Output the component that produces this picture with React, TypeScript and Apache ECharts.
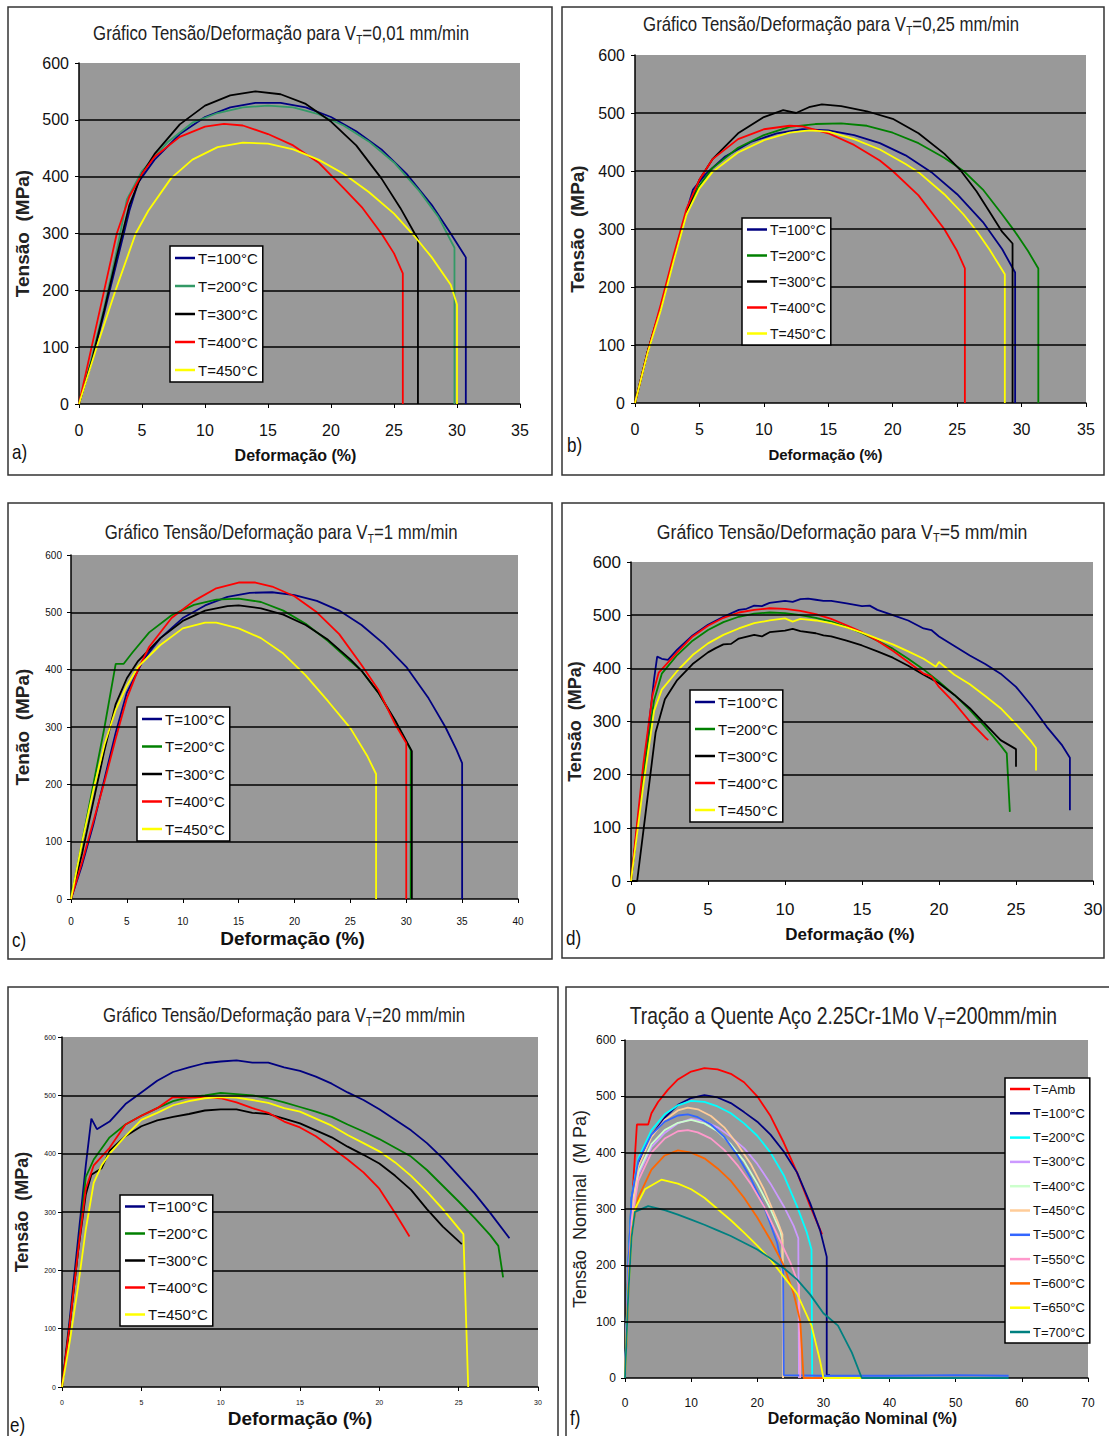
import React, { useEffect, useRef } from "react";
import * as echarts from "echarts";

const NARROW = '"Liberation Sans Narrow", "Arial Narrow", "Liberation Sans", Arial, sans-serif';
const WIDE = '"Liberation Sans", Arial, sans-serif';

// Tick values
const yTicks = [0, 100, 200, 300, 400, 500, 600];
const gridYValues = [100, 200, 300, 400, 500];

// Legend labels
const labels5 = ["T=100°C", "T=200°C", "T=300°C", "T=400°C", "T=450°C"];
const labelsF = ["T=Amb", "T=100°C", "T=200°C", "T=300°C", "T=400°C", "T=450°C", "T=500°C", "T=550°C", "T=600°C", "T=650°C", "T=700°C"];

// Colors
const colorsA = ["#000080", "#339966", "#000000", "#ff0000", "#ffff00"];
const colors5 = ["#000080", "#008000", "#000000", "#ff0000", "#ffff00"];
const colorsF = ["#ff0000", "#000080", "#00ffff", "#cc99ff", "#ccffcc", "#ffcc99", "#3366ff", "#ff99cc", "#ff6600", "#ffff00", "#008080"];

// Panel a: V=0,01 mm/min
const a100 = [[0,0],[1,75],[2,160],[3,250],[4,340],[4.7,390],[6,430],[8,475],[10,505],[12,522],[14,530],[16,530],[18,522],[20,505],[22,480],[24,448],[26,405],[28,350],[29.5,300],[30.7,258],[30.7,0]];
const a200 = [[0,0],[1,80],[2,170],[3,270],[3.8,360],[5,410],[7,460],[9,495],[11,512],[13,522],[15,525],[17,522],[19,510],[21,490],[23,462],[25,425],[27,375],[28.5,330],[29.8,275],[29.8,0]];
const a300 = [[0,0],[1,75],[2,165],[3,260],[4,350],[5,405],[6,440],[8,492],[10,525],[12,543],[14,550],[16,545],[18,528],[20,497],[22,455],[24,397],[25.5,345],[26.9,290],[26.9,0]];
const a400 = [[0,0],[1,100],[2,200],[3,300],[4,365],[5,405],[6,435],[8,470],[10,488],[11.5,493],[13,490],[15,475],[17,455],[19,425],[21,380],[22.5,345],[24,300],[25,265],[25.7,230],[25.7,0]];
const a450 = [[0,0],[1.4,100],[2.9,200],[4.5,300],[5.5,340],[7.3,397],[9,430],[11,452],[13,460],[15,458],[17,448],[19,430],[21,405],[23,373],[25,335],[26.6,296],[28,258],[29.5,210],[30,175],[30,0]];

// Panel b: V=0,25 mm/min
const b100 = [[0,0],[1,90],[2,165],[3,250],[4,330],[4.5,368],[5.5,395],[7,425],[9,450],[11,465],[13,472],[15,470],[17,462],[19,448],[21,427],[23,398],[25,360],[27,312],[28.5,265],[29.5,225],[29.5,0]];
const b200 = [[0,0],[1,90],[2,165],[3,250],[4,330],[5,375],[6,405],[8,440],[10,462],[12,476],[14,481],[16,482],[18,478],[20,466],[22,448],[24,423],[25.5,400],[27,368],[28.5,325],[29.5,295],[30.5,262],[31.3,232],[31.3,0]];
const b300 = [[0,0],[1,90],[2,165],[3,250],[4,330],[5,385],[6,420],[8,465],[10,493],[11.5,505],[12.5,500],[13.5,510],[14.5,515],[16,512],[18,503],[20,490],[22,465],[24,430],[25.2,403],[26.5,365],[27.5,330],[28.5,295],[29.3,275],[29.3,0]];
const b400 = [[0,0],[1,90],[2,170],[3,255],[4,335],[5,385],[6,420],[8,455],[10,472],[12,478],[13,477],[15,465],[17,445],[19,418],[20,400],[22,358],[24,300],[25,262],[25.6,232],[25.6,0]];
const b450 = [[0,0],[1,88],[2,160],[3,245],[4,325],[5,370],[6,398],[8,432],[10,453],[12,466],[13.5,470],[15,468],[17,455],[19,437],[21,412],[22,398],[24,360],[25.5,325],[26.5,297],[27.5,265],[28.7,222],[28.7,0]];

// Panel c: V=1 mm/min
const c100 = [[0,0],[1,60],[2,130],[3,210],[4,290],[5,360],[6.5,418],[8,455],[10,490],[12,512],[14,527],[16,534],[18,535],[20,530],[22,520],[24,503],[26,478],[28,445],[30,405],[32,350],[33.5,300],[34.5,260],[35,237],[35,0]];
const c200 = [[0,0],[1,100],[2,200],[3,300],[4,410],[4.7,410],[5.5,430],[7,465],[9,495],[11,513],[13,522],[15,524],[17,518],[19,503],[21,480],[23,450],[25,415],[26,398],[27.5,360],[29,310],[30.4,260],[30.4,0]];
const c300 = [[0,0],[1,80],[2,170],[3,260],[4,340],[5,385],[6,415],[8,455],[10,485],[12,503],[14,511],[15,512],[17,507],[19,496],[21,478],[23,452],[25,418],[26,398],[27.5,360],[29,312],[30.5,258],[30.5,0]];
const c400 = [[0,0],[1,65],[2,135],[3,205],[4,280],[5,350],[6,400],[7,440],[9,490],[11,520],[13,542],[15,552],[16.5,552],[18,545],[20,528],[22,500],[24,462],[26,408],[27.5,365],[29,305],[30,272],[30,0]];
const c450 = [[0,0],[1,100],[2,190],[3,270],[4,330],[5,372],[6,405],[8,443],[10,472],[12,482],[13,482],[15,472],[17,455],[19,428],[21,390],[23,345],[25,298],[26.5,250],[27.3,218],[27.3,0]];

// Panel d: V=5 mm/min
const d100 = [[0,0],[0.8,200],[1.5,380],[1.7,422],[2,418],[2.4,416],[3,435],[4,462],[5,482],[6,497],[7,510],[7.5,512],[8,518],[8.5,517],[9,523],[10,527],[10.5,525],[11,530],[11.5,531],[12,529],[12.5,527],[13,527],[14,522],[15,517],[15.5,518],[16,510],[17,500],[18,490],[19,475],[19.5,472],[20,460],[21,442],[22,424],[23,408],[24,390],[25,365],[26,330],[27,290],[28,255],[28.5,232],[28.5,133]];
const d200 = [[0,0],[0.8,200],[1.5,340],[2,390],[3,425],[4,452],[5,472],[6,487],[7,497],[8,503],[9,505],[10,504],[11,500],[12,495],[13,488],[14,478],[15,466],[16,452],[17,437],[18,418],[19,398],[20,375],[21,350],[22,322],[23,290],[24,255],[24.4,240],[24.6,130]];
const d300 = [[0,0],[0.4,0],[1,140],[1.6,280],[2.2,342],[3,378],[4,408],[5,430],[5.5,438],[6,445],[6.5,446],[7,456],[8,463],[8.5,460],[9,468],[10,471],[10.5,474],[11,470],[12,466],[12.5,462],[13,460],[14,452],[15,443],[16,432],[17,420],[18,405],[19,388],[20,372],[21,350],[22,325],[23,295],[24,265],[25,248],[25,215]];
const d400 = [[0,0],[0.8,220],[1.4,350],[1.8,392],[3,430],[4,460],[5,480],[6,495],[7,505],[8,510],[9,513],[10,512],[11,508],[12,502],[13,493],[14,481],[15,468],[16,452],[17,433],[18,412],[19,390],[19.5,385],[20,365],[21,335],[22,300],[23,270],[23.2,265]];
const d450 = [[0,0],[0.8,180],[1.5,320],[2,360],[3,395],[4,425],[5,447],[6,463],[7,475],[8,485],[9,490],[10,494],[10.5,488],[11,493],[12,490],[13,485],[14,477],[15,467],[16,456],[17,445],[18,432],[19,418],[19.8,403],[20,412],[21,388],[22,370],[23,348],[24,325],[25,295],[26,262],[26.3,250],[26.3,208]];

// Panel e: V=20 mm/min
const e100 = [[0,0],[0.5,120],[1,250],[1.5,380],[1.85,460],[2.2,442],[3,455],[4,485],[5,505],[6,525],[7,540],[8,548],[9,555],[10,558],[11,560],[12,556],[13,556],[14,548],[15,542],[16,532],[17,520],[18,505],[19,492],[20,476],[21,458],[22,440],[23,418],[24,392],[25,362],[26,332],[27,298],[28.2,255]];
const e200 = [[0,0],[0.5,110],[1,230],[1.5,360],[2,390],[3,428],[4,450],[5,465],[6,478],[7,490],[8,497],[9,500],[10,504],[11,502],[12,500],[13,495],[14,488],[15,480],[16,472],[17,463],[18,450],[19,438],[20,425],[21,410],[22,395],[23,372],[24,345],[25,318],[26,290],[27,260],[27.5,242],[27.8,188]];
const e300 = [[0,0],[0.5,110],[1,230],[1.5,330],[1.85,364],[2.5,375],[3,405],[4,430],[5,447],[6,457],[7,463],[8,468],[9,474],[10,476],[11,476],[12,470],[13,468],[14,460],[15,452],[16,440],[17,428],[18,412],[19,398],[20,383],[21,362],[22,338],[23,305],[24,275],[25.2,245]];
const e400 = [[0,0],[0.5,110],[1,230],[1.5,340],[2,380],[3,410],[4,450],[5,465],[6,478],[7,497],[8,496],[9,497],[10,495],[11,488],[12,478],[13,470],[14,455],[15,445],[16,430],[17,410],[18,390],[19,368],[20,340],[21,298],[21.9,258]];
const e450 = [[0,0],[0.5,80],[1,170],[1.5,270],[2,350],[2.5,380],[3,400],[4,430],[5,458],[6,470],[7,483],[8,490],[9,495],[10,497],[11,496],[12,492],[13,487],[14,478],[15,472],[16,460],[17,448],[18,432],[19,418],[20,404],[21,385],[22,362],[23,335],[24,305],[25.3,262],[25.6,0]];

// Panel f: V=200 mm/min
const fAmb = [[0,0],[0.5,150],[1,300],[1.8,450],[3.5,450],[4,470],[5,490],[6.5,512],[8,530],[10,544],[12,550],[14,548],[16,540],[18,525],[20,500],[22,465],[24,418],[26,365],[28,305],[29.8,255]];
const f100 = [[0,0],[0.5,200],[1,320],[2,380],[4,430],[6,462],[8,485],[10,497],[12,502],[14,498],[16,488],[18,472],[20,455],[22,432],[24,402],[26,365],[28,310],[29.5,262],[30.5,215],[30.5,5],[31,5]];
const f200 = [[0,0],[0.5,200],[1,320],[2,390],[4,440],[6,468],[8,484],[10,492],[12,490],[14,482],[16,470],[18,452],[20,430],[22,400],[24,360],[26,305],[27.5,258],[28.2,228],[28.3,0]];
const f300 = [[0,0],[0.5,180],[1,290],[2,360],[4,410],[6,435],[8,452],[10,460],[12,456],[14,445],[16,428],[18,408],[20,380],[22,345],[24,305],[25.5,270],[26.2,248],[26.3,0]];
const f400 = [[0,0],[0.5,180],[1,290],[2,365],[4,415],[6,440],[8,453],[10,458],[12,452],[14,438],[16,415],[18,385],[20,345],[22,300],[23.5,260],[23.8,245],[23.9,0]];
const f450 = [[0,0],[0.5,190],[1,300],[2,375],[4,428],[6,458],[8,475],[9.5,480],[11,477],[13,465],[15,445],[17,415],[19,380],[21,335],[23,280],[23.8,255],[23.9,0]];
const f500 = [[0,0],[0.5,200],[1,320],[2,385],[4,432],[6,455],[8,466],[9.5,468],[11,463],[13,450],[15,428],[17,395],[19,355],[21,305],[23,240],[23.9,190],[24,5],[30,4],[40,4],[50,5],[58,4]];
const f550 = [[0,0],[0.5,170],[1,280],[2,350],[4,400],[6,425],[8,438],[9.5,440],[11,436],[13,425],[15,405],[17,378],[19,345],[21,305],[23,255],[25,205],[26.3,165],[26.5,0]];
const f600 = [[0,0],[0.5,160],[1,260],[2,320],[4,370],[6,395],[8,404],[10,400],[12,390],[14,372],[16,350],[18,320],[20,285],[22,245],[24,200],[25.5,150],[26.5,100],[27,0],[30,0]];
const f650 = [[0,0],[0.5,150],[1,250],[1.5,300],[3,335],[5.5,352],[8,345],[10,335],[12,320],[14,300],[16,280],[18,258],[20,235],[22,210],[24,180],[26,150],[28.2,93],[29.5,30],[30,0],[36,0]];
const f700 = [[0,0],[0.5,150],[1,250],[1.5,295],[3.5,305],[6,298],[8,290],[10,281],[12,272],[14,262],[16,252],[18,240],[20,228],[22,212],[24,195],[26,175],[28,148],[30,115],[32.2,93],[34.3,45],[35.8,0],[45,0],[58,0]];

type Panel = {
  key: string;
  box: number[];
  grid: { left: number; top: number; width: number; height: number };
  xMax: number; xInt: number;
  title: string[]; titleX: number; titleY: number; titleSize: number; titleScale: number;
  yName: string; yNameGap: number; yNameSize: number; yNameWeight: string;
  xName: string; xNameGap: number; xNameSize: number; xNameShift: number;
  tickSize: number; xLabelMargin: number; yLabelMargin: number;
  names: string[]; colors: string[]; data: number[][][];
  legend: { left: number; top: number; lh: number; gap: number; fs: number };
  tag: number[];
};

const panels: Panel[] = [
  { key: "a", box: [8, 7, 544, 468], grid: { left: 79, top: 63, width: 441, height: 341 }, xMax: 35, xInt: 5,
    title: ["Gráfico Tensão/Deformação para V", "T", "=0,01 mm/min"], titleX: 281, titleY: 33, titleSize: 20, titleScale: 0.84,
    yName: "Tensão  (MPa)", yNameGap: 47, yNameSize: 19, yNameWeight: "bold", xName: "Deformação (%)", xNameGap: 43, xNameSize: 16, xNameShift: -4,
    tickSize: 16, xLabelMargin: 18, yLabelMargin: 10,
    names: labels5, colors: colorsA, data: [a100, a200, a300, a400, a450],
    legend: { left: 170, top: 246, lh: 18, gap: 10, fs: 15 }, tag: [12, 452] },
  { key: "b", box: [562, 7, 542, 468], grid: { left: 635, top: 55, width: 451, height: 348 }, xMax: 35, xInt: 5,
    title: ["Gráfico Tensão/Deformação para V", "T", "=0,25 mm/min"], titleX: 831, titleY: 24, titleSize: 20, titleScale: 0.84,
    yName: "Tensão  (MPa)", yNameGap: 48, yNameSize: 19, yNameWeight: "bold", xName: "Deformação (%)", xNameGap: 44, xNameSize: 15, xNameShift: -35,
    tickSize: 16, xLabelMargin: 18, yLabelMargin: 10,
    names: labels5, colors: colors5, data: [b100, b200, b300, b400, b450],
    legend: { left: 742, top: 218, lh: 17, gap: 9, fs: 14 }, tag: [567, 445] },
  { key: "c", box: [8, 503, 544, 456], grid: { left: 71, top: 555, width: 447, height: 344 }, xMax: 40, xInt: 5,
    title: ["Gráfico Tensão/Deformação para V", "T", "=1 mm/min"], titleX: 281, titleY: 532, titleSize: 20, titleScale: 0.84,
    yName: "Tenão  (MPa)", yNameGap: 39, yNameSize: 19, yNameWeight: "bold", xName: "Deformação (%)", xNameGap: 30, xNameSize: 19, xNameShift: -2,
    tickSize: 10, xLabelMargin: 17, yLabelMargin: 9,
    names: labels5, colors: colors5, data: [c100, c200, c300, c400, c450],
    legend: { left: 137, top: 707, lh: 18, gap: 9.5, fs: 15 }, tag: [12, 940] },
  { key: "d", box: [562, 503, 542, 455], grid: { left: 631, top: 562, width: 462, height: 319 }, xMax: 30, xInt: 5,
    title: ["Gráfico Tensão/Deformação para V", "T", "=5 mm/min"], titleX: 842, titleY: 531, titleSize: 21, titleScale: 0.84,
    yName: "Tensão  (MPa)", yNameGap: 47, yNameSize: 18, yNameWeight: "bold", xName: "Deformação (%)", xNameGap: 45, xNameSize: 17, xNameShift: -12,
    tickSize: 17, xLabelMargin: 20, yLabelMargin: 10,
    names: labels5, colors: colors5, data: [d100, d200, d300, d400, d450],
    legend: { left: 690, top: 690, lh: 18, gap: 9, fs: 15 }, tag: [566, 938] },
  { key: "e", box: [8, 987, 550, 460], grid: { left: 62, top: 1037, width: 476, height: 350 }, xMax: 30, xInt: 5,
    title: ["Gráfico Tensão/Deformação para V", "T", "=20 mm/min"], titleX: 284, titleY: 1015, titleSize: 20, titleScale: 0.84,
    yName: "Tensão  (MPa)", yNameGap: 31, yNameSize: 18, yNameWeight: "bold", xName: "Deformação (%)", xNameGap: 22, xNameSize: 19, xNameShift: 0,
    tickSize: 7, xLabelMargin: 12, yLabelMargin: 6,
    names: labels5, colors: colors5, data: [e100, e200, e300, e400, e450],
    legend: { left: 120, top: 1195, lh: 17, gap: 10, fs: 15 }, tag: [10, 1425] },
  { key: "f", box: [566, 987, 550, 460], grid: { left: 625, top: 1040, width: 463, height: 338 }, xMax: 70, xInt: 10,
    title: ["Tração a Quente Aço 2.25Cr-1Mo V", "T", "=200mm/min"], titleX: 843, titleY: 1016, titleSize: 23, titleScale: 0.84,
    yName: "Tensão  Nominal  (M Pa)", yNameGap: 36, yNameSize: 18, yNameWeight: "normal", xName: "Deformação Nominal (%)", xNameGap: 32, xNameSize: 16, xNameShift: 6,
    tickSize: 12, xLabelMargin: 19, yLabelMargin: 9,
    names: labelsF, colors: colorsF, data: [fAmb, f100, f200, f300, f400, f450, f500, f550, f600, f650, f700],
    legend: { left: 1005, top: 1078, lh: 16, gap: 8.3, fs: 13 }, tag: [570, 1418] },
];

function buildOption() {
  const grid: any[] = [];
  const xAxis: any[] = [];
  const yAxis: any[] = [];
  const series: any[] = [];
  const legend: any[] = [];
  const graphic: any[] = [];

  panels.forEach((p, i) => {
    grid.push({ ...p.grid, show: true, backgroundColor: "#999999", borderWidth: 0 });
    const axisCommon = {
      axisLine: { show: true, onZero: false, lineStyle: { color: "#000", width: 1.5 } },
      axisTick: { show: true, length: 4, lineStyle: { color: "#000", width: 1 } },
      splitLine: { show: false },
    };
    const shift = p.xNameShift;
    xAxis.push({
      type: "value", gridIndex: i, min: 0, max: p.xMax, interval: p.xInt, ...axisCommon,
      axisLabel: { fontSize: p.tickSize, color: "#111", fontFamily: NARROW, margin: p.xLabelMargin },
      name: p.xName, nameLocation: "middle", nameGap: p.xNameGap,
      nameTextStyle: {
        fontSize: p.xNameSize, fontFamily: WIDE, color: "#111", fontWeight: "bold",
        padding: shift < 0 ? [0, -2 * shift, 0, 0] : [0, 0, 0, 2 * shift],
      },
    });
    yAxis.push({
      type: "value", gridIndex: i, min: yTicks[0], max: yTicks[yTicks.length - 1], interval: 100, ...axisCommon,
      axisLabel: { fontSize: p.tickSize, color: "#111", fontFamily: NARROW, margin: p.yLabelMargin },
      name: p.yName, nameLocation: "middle", nameGap: p.yNameGap, nameRotate: 90,
      nameTextStyle: { fontSize: p.yNameSize, fontFamily: WIDE, color: "#222", fontWeight: p.yNameWeight },
    });
    // horizontal gridlines (excluding the top edge)
    series.push({
      type: "line", name: p.key + "|grid", xAxisIndex: i, yAxisIndex: i, data: [], silent: true, z: 1,
      markLine: {
        silent: true, symbol: ["none", "none"], label: { show: false },
        lineStyle: { color: "#000", type: "solid", width: 1.5 },
        data: gridYValues.map((v) => ({ yAxis: v })),
      },
    });
    p.names.forEach((n, k) => {
      series.push({
        type: "line", name: p.key + "|" + n, xAxisIndex: i, yAxisIndex: i, z: 3,
        data: p.data[k], showSymbol: false, symbol: "none", smooth: false,
        lineStyle: { color: p.colors[k], width: 1.8 }, itemStyle: { color: p.colors[k] },
      });
    });
    legend.push({
      orient: "vertical", left: p.legend.left, top: p.legend.top, z: 50,
      backgroundColor: "#fff", borderColor: "#000", borderWidth: 1.5,
      padding: [3, 5, 3, 5], itemGap: p.legend.gap, itemWidth: 20, itemHeight: 2.5, icon: "rect",
      data: p.names.map((n) => p.key + "|" + n),
      formatter: (name: string) => name.split("|")[1],
      textStyle: { fontSize: p.legend.fs, lineHeight: p.legend.lh, fontFamily: NARROW, color: "#111", padding: [0, 0, 0, -2] },
      selectedMode: false,
    });
    graphic.push({
      type: "rect", shape: { x: p.box[0], y: p.box[1], width: p.box[2], height: p.box[3] },
      style: { fill: "none", stroke: "#333", lineWidth: 1.5 }, silent: true, z: 100,
    });
    graphic.push({
      type: "text", x: p.titleX, y: p.titleY, scaleX: p.titleScale, scaleY: 1,
      style: {
        text: "{m|" + p.title[0] + "}{s|" + p.title[1] + "}{m|" + p.title[2] + "}",
        align: "center", verticalAlign: "middle", fill: "#222",
        rich: {
          m: { fontSize: p.titleSize, fontFamily: WIDE, fill: "#222", lineHeight: p.titleSize + 6 },
          s: { fontSize: Math.round(p.titleSize * 0.6), fontFamily: WIDE, fill: "#222", lineHeight: p.titleSize + 6, verticalAlign: "bottom" },
        },
      },
      z: 100,
    });
    graphic.push({
      type: "text", x: p.tag[0], y: p.tag[1], scaleX: 0.85,
      style: { text: p.key + ")", fontSize: 20, fontFamily: WIDE, fill: "#111", verticalAlign: "middle" }, z: 100,
    });
  });

  return {
    animation: false,
    backgroundColor: "#ffffff",
    grid, xAxis, yAxis, series, legend, graphic,
  };
}

export default function App() {
  const ref = useRef<HTMLDivElement>(null);
  useEffect(() => {
    if (!ref.current) return;
    const chart = echarts.init(ref.current, null, { renderer: "svg" });
    chart.setOption(buildOption() as any);
    return () => chart.dispose();
  }, []);
  return (
    <div
      ref={ref}
      style={{ position: "absolute", left: 0, top: 0, width: 1109, height: 1436, background: "#fff" }}
    />
  );
}
